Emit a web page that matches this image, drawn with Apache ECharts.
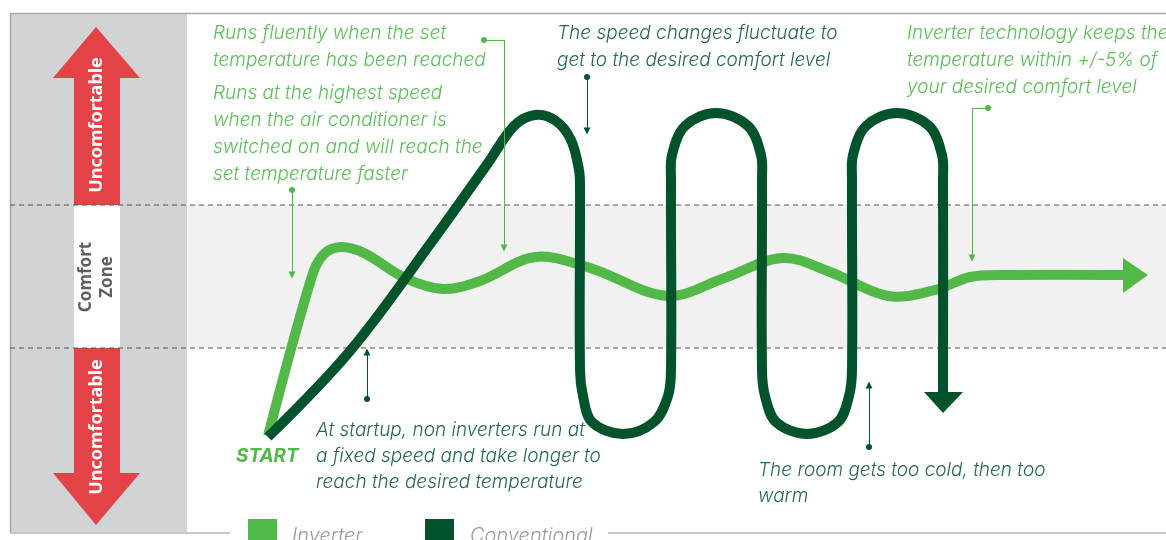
<!DOCTYPE html>
<html>
<head>
<meta charset="utf-8">
<script src="https://cdn.jsdelivr.net/npm/echarts@6/dist/echarts.min.js"></script>
<style>
html, body { margin: 0; padding: 0; background: #fff; }
#chart { width: 1166px; height: 540px; }
</style>
</head>
<body>
<div id="chart"></div>
<script>
// points (x to the right, y downwards)
var inverterPts = [[268,436],[312,276],[324,254],[341,247],[364,253],[405,278],[443,289],[480,281],[535,257],[590,268],
	[667,296],[722,279],[782,258],[830,272],[888,296],[935,290],[970,277],[1005,275],[1124,275]];
var conventionalPts = [[268,437],[350,351],[433,240],[488,163],[514,126],[535,115],[556,121],[571,140],[579,170],[580,190],
	[580,370],[583,396],[592,422],[623,434],[654,422],[668,396],[671,370],[671,180],[672,155],[685,126],[716,113],[748,126],
	[761,155],[762,180],[762,370],[765,396],[776,422],[807,434],[838,422],[849,396],[852,370],[852,180],[853,155],[866,126],
	[897,113],[929,126],[942,155],[943,180],[943,393]];
var inverterHead = [[1123,258],[1148,275],[1123,293]];
var conventionalHead = [[924,392],[963,392],[943,413]];
var hotArrow = [[96,27],[140,78],[120,78],[120,205],[74,205],[74,78],[53,78]];
var coldArrow = [[74,348],[120,348],[120,473],[140,473],[96,525],[53,473],[74,473]];
var zoneTop = 205, zoneBottom = 348;
// leader lines: dot end first, arrow end last
var lightLeaders = [[[292,190],[292,275]]];
var lightCorners = [[[484,40],[504,40],[504,248]], [[988,108],[972,108],[972,258]]];
var darkLeaders = [[[587,77],[587,131]], [[367,399],[367,352]], [[869,447],[869,385]]];

var LIGHT = '#52b848', DARK = '#00532a', RED = '#e34347';
var TXT_LIGHT = '#5cbd59', TXT_DARK = '#27694a';

function polygon(points, color) {
	return function(params, api) {
		return {
			type: 'polygon',
			shape: { points: points.map(function(p) { return api.coord(p); }) },
			style: { fill: color }
		};
	};
}

function curve(points, color, width) {
	return function(params, api) {
		return {
			type: 'polyline',
			shape: { points: points.map(function(p) { return api.coord(p); }), smooth: 0.35 },
			style: { stroke: color, lineWidth: width, fill: null, lineJoin: 'round', lineCap: 'butt' }
		};
	};
}

var firstSegs = [], secondSegs = [];
lightCorners.forEach(function(c) {
	firstSegs.push({ coords: [c[0], c[1]] });
	secondSegs.push({ coords: [c[1], c[2]] });
});

function txt(x, y, text, color, opts) {
	opts = opts || {};
	return {
		type: 'text', x: x, y: y, z: 20,
		style: {
			text: text, fill: color,
			fontFamily: 'Inter', fontStyle: 'italic', fontWeight: opts.weight || 300,
			fontSize: opts.size || 19, lineHeight: opts.lh || 27,
			textVerticalAlign: 'top'
		}
	};
}

var myChart = echarts.init(document.getElementById('chart'));
var option = {
	animation: false,
	grid: { left: 0, right: 0, top: 0, bottom: 0 },
	xAxis: { type: 'value', min: 0, max: 1166, show: false },
	yAxis: { type: 'value', min: 0, max: 540, inverse: true, show: false },
	graphic: [
		// left panel and comfort band
		{ type: 'rect', z: -10, shape: { x: 10, y: 13, width: 177, height: 520 }, style: { fill: '#d1d3d5' } },
		{ type: 'rect', z: -10, shape: { x: 187, y: zoneTop, width: 979, height: zoneBottom - zoneTop }, style: { fill: '#f1f1f1' } },
		{ type: 'rect', z: -9, shape: { x: 74, y: zoneTop, width: 46, height: zoneBottom - zoneTop }, style: { fill: '#fff' } },
		{ type: 'line', z: -8, shape: { x1: 10, y1: 13.5, x2: 1166, y2: 13.5 }, style: { stroke: '#a8a8a8', lineWidth: 1.5 } },
		{ type: 'line', z: -8, shape: { x1: 10.5, y1: 13, x2: 10.5, y2: 533 }, style: { stroke: '#a8a8a8', lineWidth: 1.5 } },
		{ type: 'line', z: -8, shape: { x1: 10, y1: 533, x2: 230, y2: 533 }, style: { stroke: '#c8c8c8', lineWidth: 2 } },
		{ type: 'line', z: -8, shape: { x1: 608, y1: 533, x2: 1166, y2: 533 }, style: { stroke: '#c8c8c8', lineWidth: 2 } },
		// red arrow labels
		{ type: 'text', x: 97, y: 125, rotation: Math.PI / 2, z: 20,
			style: { text: 'Uncomfortable', fill: '#fff', fontFamily: 'Noto Sans', fontWeight: 'bold', fontSize: 18, textAlign: 'center', textVerticalAlign: 'middle' } },
		{ type: 'text', x: 97, y: 427, rotation: Math.PI / 2, z: 20,
			style: { text: 'Uncomfortable', fill: '#fff', fontFamily: 'Noto Sans', fontWeight: 'bold', fontSize: 18, textAlign: 'center', textVerticalAlign: 'middle' } },
		{ type: 'text', x: 97, y: 277, rotation: Math.PI / 2, z: 20,
			style: { text: 'Comfort\nZone', fill: '#5f5f5f', fontFamily: 'Noto Sans', fontWeight: 'bold', fontSize: 17, lineHeight: 21, textAlign: 'center', textVerticalAlign: 'middle' } },
		// annotations
		txt(213, 20, 'Runs fluently when the set\ntemperature has been reached', TXT_LIGHT),
		txt(213, 80, 'Runs at the highest speed\nwhen the air conditioner is\nswitched on and will reach the\nset temperature faster', TXT_LIGHT),
		txt(557, 20, 'The speed changes fluctuate to\nget to the desired comfort level', TXT_DARK),
		txt(907, 20, 'Inverter technology keeps the\ntemperature within +/-5% of\nyour desired comfort level', TXT_LIGHT),
		txt(316, 417, 'At startup, non inverters run at\na fixed speed and take longer to\nreach the desired temperature', TXT_DARK, { lh: 26 }),
		txt(758, 457, 'The room gets too cold, then too\nwarm', TXT_DARK, { lh: 26 }),
		txt(236, 443, 'START', LIGHT, { weight: 'bold', size: 19 }),
		// legend
		{ type: 'rect', z: 20, shape: { x: 248, y: 519, width: 29, height: 30 }, style: { fill: LIGHT } },
		{ type: 'rect', z: 20, shape: { x: 425, y: 519, width: 29, height: 30 }, style: { fill: DARK } },
		txt(292, 522, 'Inverter', '#9a9a9a', { size: 20 }),
		txt(470, 522, 'Conventional', '#9a9a9a', { size: 20 })
	],
	series: [
		{ type: 'custom', data: [[0, 0]], renderItem: polygon(hotArrow, RED), z: 1, silent: true },
		{ type: 'custom', data: [[0, 0]], renderItem: polygon(coldArrow, RED), z: 1, silent: true },
		{ type: 'line', data: [[10, zoneTop], [1166, zoneTop]], symbol: 'none', z: 2,
			lineStyle: { color: '#555', width: 1, type: [5, 4] } },
		{ type: 'line', data: [[10, zoneBottom], [1166, zoneBottom]], symbol: 'none', z: 2,
			lineStyle: { color: '#555', width: 1, type: [5, 4] } },
		{ name: 'Inverter', type: 'custom', data: [[0, 0]], renderItem: curve(inverterPts, LIGHT, 10), z: 3, silent: true },
		{ type: 'custom', data: [[0, 0]], renderItem: polygon(inverterHead, LIGHT), z: 3, silent: true },
		{ name: 'Conventional', type: 'custom', data: [[0, 0]], renderItem: curve(conventionalPts, DARK, 10), z: 4, silent: true },
		{ type: 'custom', data: [[0, 0]], renderItem: polygon(conventionalHead, DARK), z: 4, silent: true },
		// leaders
		{ type: 'lines', coordinateSystem: 'cartesian2d', z: 6, symbol: ['circle', 'triangle'], symbolSize: [6, 7],
			lineStyle: { color: LIGHT, width: 1, opacity: 1 },
			data: lightLeaders.map(function(c) { return { coords: c }; }) },
		{ type: 'lines', coordinateSystem: 'cartesian2d', z: 6, symbol: ['circle', 'none'], symbolSize: [6, 0],
			lineStyle: { color: LIGHT, width: 1, opacity: 1 }, data: firstSegs },
		{ type: 'lines', coordinateSystem: 'cartesian2d', z: 6, symbol: ['none', 'triangle'], symbolSize: [0, 7],
			lineStyle: { color: LIGHT, width: 1, opacity: 1 }, data: secondSegs },
		{ type: 'lines', coordinateSystem: 'cartesian2d', z: 6, symbol: ['circle', 'triangle'], symbolSize: [6, 7],
			lineStyle: { color: DARK, width: 1, opacity: 1 },
			data: darkLeaders.map(function(c) { return { coords: c }; }) }
	]
};
myChart.setOption(option);
</script>
</body>
</html>
